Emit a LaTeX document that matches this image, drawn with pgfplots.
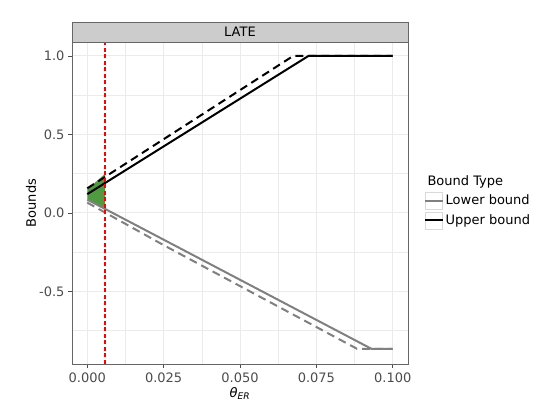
\documentclass[border=0pt]{standalone}
\usepackage{fontspec}
\setmainfont{DejaVu Sans}
\usepackage{pgfplots}
\pgfplotsset{compat=1.18}
\definecolor{ribbon}{RGB}{80,155,65}
\definecolor{thresh}{RGB}{255,0,0}
\newcommand{\gfont}{\fontsize{13bp}{15bp}\selectfont}
\begin{document}
\begin{tikzpicture}
\path[use as bounding box] (0,0) rectangle (554bp,410bp);
\begin{axis}[
  at={(72bp,46bp)}, anchor=south west,
  width=336bp, height=322bp, scale only axis,
  xmin=-0.005, xmax=0.105, ymin=-0.962, ymax=1.089,
  xtick={0,0.025,0.05,0.075,0.1},
  xticklabels={0.000,0.025,0.050,0.075,0.100},
  ytick={-0.5,0,0.5,1},
  yticklabels={-0.5,0.0,0.5,1.0},
  minor xtick={0.0125,0.0375,0.0625,0.0875},
  minor ytick={-0.75,-0.25,0.25,0.75},
  grid=both,
  major grid style={color=black!8, line width=1bp},
  minor grid style={color=black!8, line width=0.5bp},
  axis line style={draw=black!60, line width=0.7bp},
  tick align=outside, tick pos=left,
  major tick length=4bp, minor tick length=0bp,
  tick style={draw=black!70, line width=0.7bp},
  tick label style={font=\gfont, text=black!70},
  xticklabel style={yshift=-1bp},
  xlabel={\textit{θ}\textsubscript{\textit{ER}}},
  ylabel={Bounds},
  label style={font=\gfont},
  xlabel style={at={(axis description cs:0.5,-0.062)}, anchor=north},
  ylabel style={at={(axis description cs:-0.122,0.5)}, anchor=center},
  clip=false,
  legend cell align=left,
  legend style={at={(axis description cs:1.0476,0.535)}, anchor=north west,
    draw=none, fill=none, font=\gfont, row sep=2bp, inner sep=0pt,
    nodes={inner sep=1.5bp}},
  legend image code/.code={
    \draw[black!15, fill=white, line width=0.6bp] (0bp,-8.5bp) rectangle (17bp,8.5bp);
    \draw[#1] (-0.5bp,0bp) -- (17.5bp,0bp);
  },
]
% shaded region
\addplot[fill=ribbon, draw=none, forget plot] coordinates {
  (0,0.15) (0.00585,0.25) (0.00585,0.02) (0,0.09)} -- cycle;
% lower bounds
\addplot[color=black!50, line width=2bp, dash pattern=on 8bp off 5bp, forget plot] coordinates {
  (0,0.066) (0.025,-0.205) (0.0883,-0.865) (0.1,-0.865)};
\addplot[color=black!50, line width=2bp] coordinates {
  (0,0.085) (0.025,-0.17) (0.093,-0.865) (0.1,-0.865)};
\addlegendentry{Lower bound}
% upper bounds
\addplot[color=black, line width=2bp, dash pattern=on 8bp off 5bp, forget plot] coordinates {
  (0,0.157) (0.0674,1.0) (0.1,1.0)};
\addplot[color=black, line width=2bp] coordinates {
  (0,0.12) (0.0724,1.0) (0.1,1.0)};
\addlegendentry{Upper bound}
% threshold
\addplot[draw=thresh, line width=1.6bp, dash pattern=on 4bp off 2.5bp, forget plot] coordinates {
  (0.00585,-0.962) (0.00585,1.089)};
\node[anchor=west, font=\gfont] at (axis description cs:1.0476,0.565) {Bound Type};
\end{axis}
\draw[fill=black!20, draw=black!60, line width=0.7bp]
  (current axis.north west) rectangle ([yshift=20bp]current axis.north east);
\node[font=\gfont] at ([yshift=10bp]current axis.north) {LATE};
\end{tikzpicture}
\end{document}
